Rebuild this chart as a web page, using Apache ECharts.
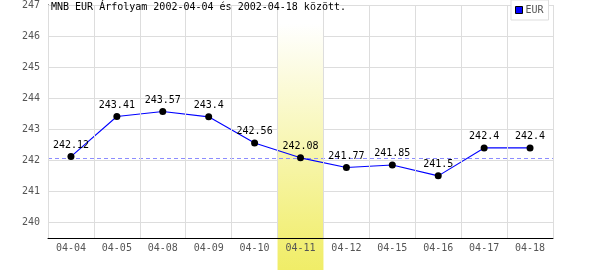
<!DOCTYPE html>
<html>
<head>
<meta charset="utf-8">
<script src="https://cdn.jsdelivr.net/npm/echarts@6/dist/echarts.min.js"></script>
<style>
html,body{margin:0;padding:0;background:#fff;}
#chart{width:600px;height:270px;}
</style>
</head>
<body>
<div id="chart"></div>
<script>
const categories = ['04-04','04-05','04-08','04-09','04-10','04-11','04-12','04-15','04-16','04-17','04-18'];
const eurValues = [242.12, 243.41, 243.57, 243.4, 242.56, 242.08, 241.77, 241.85, 241.5, 242.4, 242.4];
const yTicks = [240, 241, 242, 243, 244, 245, 246, 247];
const yMin = 239.5;
const yMax = 247;
const highlightCategory = '04-11';
const referenceValue = 242.08;
const titleText = 'MNB EUR Árfolyam 2002-04-04 és 2002-04-18 között.';
const seriesName = 'EUR';

const FONT = 'DejaVu Sans Mono';
const chart = echarts.init(document.getElementById('chart'), null, {renderer: 'canvas'});

// highlight band values built from the category list
const bandTop = categories.map(c => (c === highlightCategory ? yMax : null));
const bandBottom = categories.map(c => (c === highlightCategory ? 1 : null));

chart.setOption({
  animation: false,
  backgroundColor: '#ffffff',
  title: {
    text: titleText,
    left: 51, top: 2, padding: 0,
    textStyle: {fontFamily: FONT, fontSize: 10, fontWeight: 'normal', color: '#000'}
  },
  legend: {
    data: [seriesName],
    left: 511, top: 0,
    padding: [5, 5, 5, 4],
    backgroundColor: '#fff',
    borderColor: '#dddddd', borderWidth: 1,
    icon: 'rect', itemWidth: 7, itemHeight: 7, itemGap: 3,
    itemStyle: {color: '#0000ff', borderColor: '#000', borderWidth: 1},
    textStyle: {fontFamily: FONT, fontSize: 10, color: '#555', padding: [0, 0, 0, -2]}
  },
  grid: [
    {left: 48, right: 47, top: 0, bottom: 32, containLabel: false},
    {left: 48, right: 47, top: 238, bottom: 0, containLabel: false}
  ],
  xAxis: [
    {
      type: 'category', gridIndex: 0, data: categories, boundaryGap: true, z: 5,
      axisLine: {show: true, lineStyle: {color: '#000', width: 1}},
      axisTick: {show: false},
      axisLabel: {fontFamily: FONT, fontSize: 10, color: '#555', margin: 5},
      splitLine: {show: true, lineStyle: {color: '#dddddd', width: 1}}
    },
    {
      type: 'category', gridIndex: 1, data: categories, boundaryGap: true, show: false
    }
  ],
  yAxis: [
    {
      type: 'value', gridIndex: 0, min: yMin, max: yMax, interval: 0.5,
      axisLine: {show: true, lineStyle: {color: '#000', width: 1}},
      axisTick: {show: false},
      splitLine: {show: false},
      axisLabel: {
        fontFamily: FONT, fontSize: 10, color: '#555', margin: 8,
        formatter: v => (Math.abs(v - Math.round(v)) < 1e-9 ? String(Math.round(v)) : '')
      }
    },
    {type: 'value', gridIndex: 1, min: 0, max: 1, show: false}
  ],
  series: [
    {
      type: 'line', xAxisIndex: 0, yAxisIndex: 0, data: [], z: 1, silent: true,
      markLine: {
        z: 1,
        silent: true, symbol: 'none', animation: false,
        label: {show: false},
        lineStyle: {color: '#dddddd', type: 'solid', width: 1},
        data: yTicks.map(v => ({yAxis: v}))
      }
    },
    {
      type: 'bar', xAxisIndex: 0, yAxisIndex: 0, data: bandTop, z: 2, silent: true,
      barWidth: '100%', barGap: '-100%',
      itemStyle: {
        color: new echarts.graphic.LinearGradient(0, 0, 0, 1, [
          {offset: 0, color: '#ffffff'},
          {offset: 0.08, color: '#ffffff'},
          {offset: 1, color: '#f2ef78'}
        ])
      }
    },
    {
      type: 'bar', xAxisIndex: 1, yAxisIndex: 1, data: bandBottom, z: 1, silent: true,
      barWidth: '100%',
      itemStyle: {
        color: new echarts.graphic.LinearGradient(0, 0, 0, 1, [
          {offset: 0, color: '#f2ef78'},
          {offset: 1, color: '#f0ed68'}
        ])
      }
    },
    {
      name: seriesName,
      type: 'line', xAxisIndex: 0, yAxisIndex: 0, z: 4,
      data: eurValues,
      smooth: false,
      symbol: 'circle', symbolSize: 7,
      showAllSymbol: true,
      lineStyle: {color: '#0000ff', width: 1.1},
      itemStyle: {color: '#000000'},
      label: {show: true, position: 'top', distance: 3, fontFamily: FONT, fontSize: 10, color: '#000'},
      markLine: {
        z: 3,
        silent: true, symbol: 'none',
        label: {show: false},
        lineStyle: {color: '#8c8cff', type: [4, 3], width: 1},
        data: [{yAxis: referenceValue}]
      }
    }
  ]
});
</script>
</body>
</html>
